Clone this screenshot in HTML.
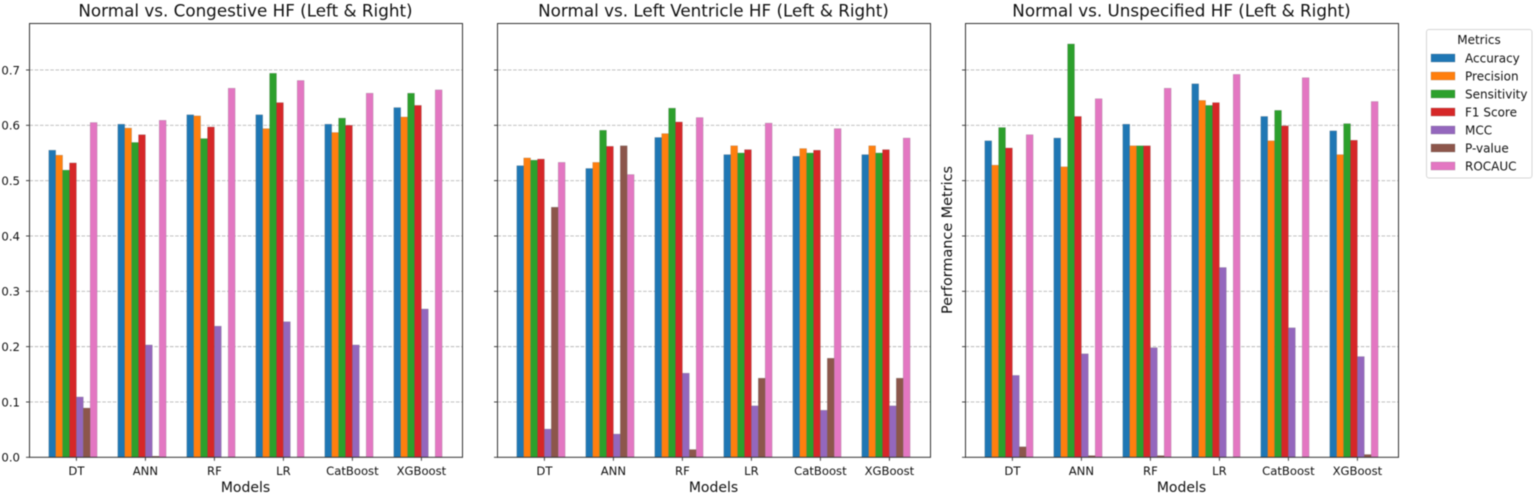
<!DOCTYPE html>
<html lang="en">
<head>
<meta charset="utf-8">
<title>Normal vs. HF performance metrics</title>
<style>
html,body{margin:0;padding:0;background:#fff;width:1535px;height:500px;overflow:hidden}
svg{display:block;filter:blur(0.45px)}
text{font-family:"DejaVu Sans","Liberation Sans",sans-serif;fill:#111}
</style>
</head>
<body>
<svg id="chart" xmlns="http://www.w3.org/2000/svg" width="1535" height="500" viewBox="0 0 1535 500">
  <rect width="1535" height="500" fill="#fff"/>
  <g id="panel-0"></g>
  <g id="panel-1"></g>
  <g id="panel-2"></g>

  <text x="245.5" y="16.3" font-size="16.75" text-anchor="middle">Normal vs. Congestive HF (Left &amp; Right)</text>
  <text x="713.5" y="16.3" font-size="16.75" text-anchor="middle">Normal vs. Left Ventricle HF (Left &amp; Right)</text>
  <text x="1181.5" y="16.3" font-size="16.75" text-anchor="middle">Normal vs. Unspecified HF (Left &amp; Right)</text>

  <text x="245.5" y="492" font-size="14" text-anchor="middle">Models</text>
  <text x="713.5" y="492" font-size="14" text-anchor="middle">Models</text>
  <text x="1181.5" y="492" font-size="14" text-anchor="middle">Models</text>
  <text x="0" y="0" font-size="14.4" text-anchor="middle" transform="translate(952,240) rotate(-90)">Performance Metrics</text>

  <g id="legend">
    <rect x="1426.5" y="29.5" width="105.5" height="148.5" rx="2.5" fill="#fff" stroke="#d6d6d6"/>
    <text x="1479" y="44" font-size="12" text-anchor="middle">Metrics</text>
    <text x="1465" y="62.5" font-size="12">Accuracy</text>
    <text x="1465" y="80.5" font-size="12">Precision</text>
    <text x="1465" y="98.5" font-size="12">Sensitivity</text>
    <text x="1465" y="116.5" font-size="12">F1 Score</text>
    <text x="1465" y="134.5" font-size="12">MCC</text>
    <text x="1465" y="152.5" font-size="12">P-value</text>
    <text x="1465" y="170.5" font-size="12">ROCAUC</text>
  </g>
</svg>
<script>
const categories = ['DT', 'ANN', 'RF', 'LR', 'CatBoost', 'XGBoost'];
const metricNames = ['Accuracy', 'Precision', 'Sensitivity', 'F1 Score', 'MCC', 'P-value', 'ROCAUC'];
const metricColors = ['#1f77b4', '#ff7f0e', '#2ca02c', '#d62728', '#9467bd', '#8c564b', '#e377c2'];
const yTicks = [0, 0.1, 0.2, 0.3, 0.4, 0.5, 0.6, 0.7];
const yTickLabels = ['0.0', '0.1', '0.2', '0.3', '0.4', '0.5', '0.6', '0.7'];

const congestiveAccuracy = [0.555, 0.602, 0.619, 0.619, 0.602, 0.632];
const congestivePrecision = [0.546, 0.595, 0.617, 0.594, 0.587, 0.615];
const congestiveSensitivity = [0.519, 0.569, 0.576, 0.694, 0.613, 0.658];
const congestiveF1 = [0.532, 0.583, 0.597, 0.641, 0.600, 0.636];
const congestiveMcc = [0.109, 0.203, 0.237, 0.245, 0.203, 0.268];
const congestivePValue = [0.089, 0.002, 0.000, 0.000, 0.001, 0.000];
const congestiveRocauc = [0.605, 0.609, 0.667, 0.681, 0.658, 0.664];

const ventricleAccuracy = [0.527, 0.522, 0.578, 0.547, 0.544, 0.547];
const ventriclePrecision = [0.541, 0.533, 0.585, 0.563, 0.558, 0.563];
const ventricleSensitivity = [0.537, 0.591, 0.631, 0.550, 0.550, 0.550];
const ventricleF1 = [0.539, 0.562, 0.606, 0.556, 0.555, 0.556];
const ventricleMcc = [0.051, 0.042, 0.152, 0.093, 0.085, 0.093];
const ventriclePValue = [0.452, 0.563, 0.014, 0.143, 0.179, 0.143];
const ventricleRocauc = [0.533, 0.511, 0.614, 0.604, 0.594, 0.577];

const unspecifiedAccuracy = [0.572, 0.577, 0.602, 0.675, 0.616, 0.590];
const unspecifiedPrecision = [0.528, 0.525, 0.563, 0.645, 0.572, 0.547];
const unspecifiedSensitivity = [0.596, 0.747, 0.563, 0.636, 0.627, 0.603];
const unspecifiedF1 = [0.559, 0.616, 0.563, 0.641, 0.599, 0.573];
const unspecifiedMcc = [0.148, 0.187, 0.198, 0.343, 0.234, 0.182];
const unspecifiedPValue = [0.019, 0.003, 0.003, 0.000, 0.000, 0.005];
const unspecifiedRocauc = [0.583, 0.648, 0.667, 0.692, 0.686, 0.643];

const panelSeries = [
  [congestiveAccuracy, congestivePrecision, congestiveSensitivity, congestiveF1, congestiveMcc, congestivePValue, congestiveRocauc],
  [ventricleAccuracy, ventriclePrecision, ventricleSensitivity, ventricleF1, ventricleMcc, ventriclePValue, ventricleRocauc],
  [unspecifiedAccuracy, unspecifiedPrecision, unspecifiedSensitivity, unspecifiedF1, unspecifiedMcc, unspecifiedPValue, unspecifiedRocauc]
];

const NS = 'http://www.w3.org/2000/svg';
const axisLefts = [29.5, 497.5, 965.5];
const axisWidth = 433;
const axisTop = 23.5;
const axisBottom = 457.3;
const yMax = 0.784;
const barWidth = 6.9;
const firstTickOffset = 46.9;
const tickStep = 69;

function slug(s) {
  return s.toLowerCase().replace(/[^a-z0-9]+/g, '-');
}
function yScale(v) {
  return axisBottom - (v / yMax) * (axisBottom - axisTop);
}
function xTick(panel, c) {
  return axisLefts[panel] + firstTickOffset + c * tickStep;
}
function xBar(panel, c, s) {
  return xTick(panel, c) + (s - 4) * barWidth;
}
function make(parent, tag, attrs) {
  const el = document.createElementNS(NS, tag);
  for (const k in attrs) el.setAttribute(k, attrs[k]);
  parent.appendChild(el);
  return el;
}

panelSeries.forEach(function (series, p) {
  const g = document.getElementById('panel-' + p);
  const left = axisLefts[p];
  const right = left + axisWidth;

  const bg = make(g, 'rect', { x: left, y: axisTop, width: axisWidth, height: axisBottom - axisTop, fill: '#fff' });
  
  

  yTicks.forEach(function (t, i) {
    const y = yScale(t);
    if (t > 0) {
      const grid = make(g, 'line', { x1: left, x2: right, y1: y, y2: y, stroke: '#b8b8b8', 'stroke-width': 0.9, 'stroke-dasharray': '3.6 1.6' });
      
      
    }
    const tick = make(g, 'line', { x1: left - 3.5, x2: left, y1: y, y2: y, stroke: '#333', 'stroke-width': 0.9 });
    
    
    if (p === 0) {
      const label = make(g, 'text', { x: left - 9.5, y: y + 4.4, 'font-size': 11.7, 'text-anchor': 'end' });
      label.textContent = yTickLabels[i];
      
      
    }
  });

  series.forEach(function (values, s) {
    values.forEach(function (v, c) {
      const top = yScale(v);
      const bar = make(g, 'rect', {
        x: xBar(p, c, s), y: top, width: barWidth, height: axisBottom - top,
        fill: metricColors[s], stroke: '#555', 'stroke-opacity': 0.35, 'stroke-width': 0.5
      });
      
      
    });
  });

  categories.forEach(function (name, c) {
    const x = xTick(p, c);
    const tick = make(g, 'line', { x1: x, x2: x, y1: axisBottom, y2: axisBottom + 3.5, stroke: '#333', 'stroke-width': 0.9 });
    
    
    const label = make(g, 'text', { x: x, y: 475, 'font-size': 11.6, 'text-anchor': 'middle' });
    label.textContent = name;
    
    
  });

  const frame = make(g, 'rect', { x: left, y: axisTop, width: axisWidth, height: axisBottom - axisTop, fill: 'none', stroke: '#333', 'stroke-width': 1 });
  
  
});

const legend = document.getElementById('legend');
metricNames.forEach(function (name, i) {
  const swatch = make(legend, 'rect', {
    x: 1431, y: 54 + i * 18, width: 24, height: 8,
    fill: metricColors[i], stroke: '#555', 'stroke-opacity': 0.35, 'stroke-width': 0.5
  });
  
  
});
</script>
</body>
</html>
